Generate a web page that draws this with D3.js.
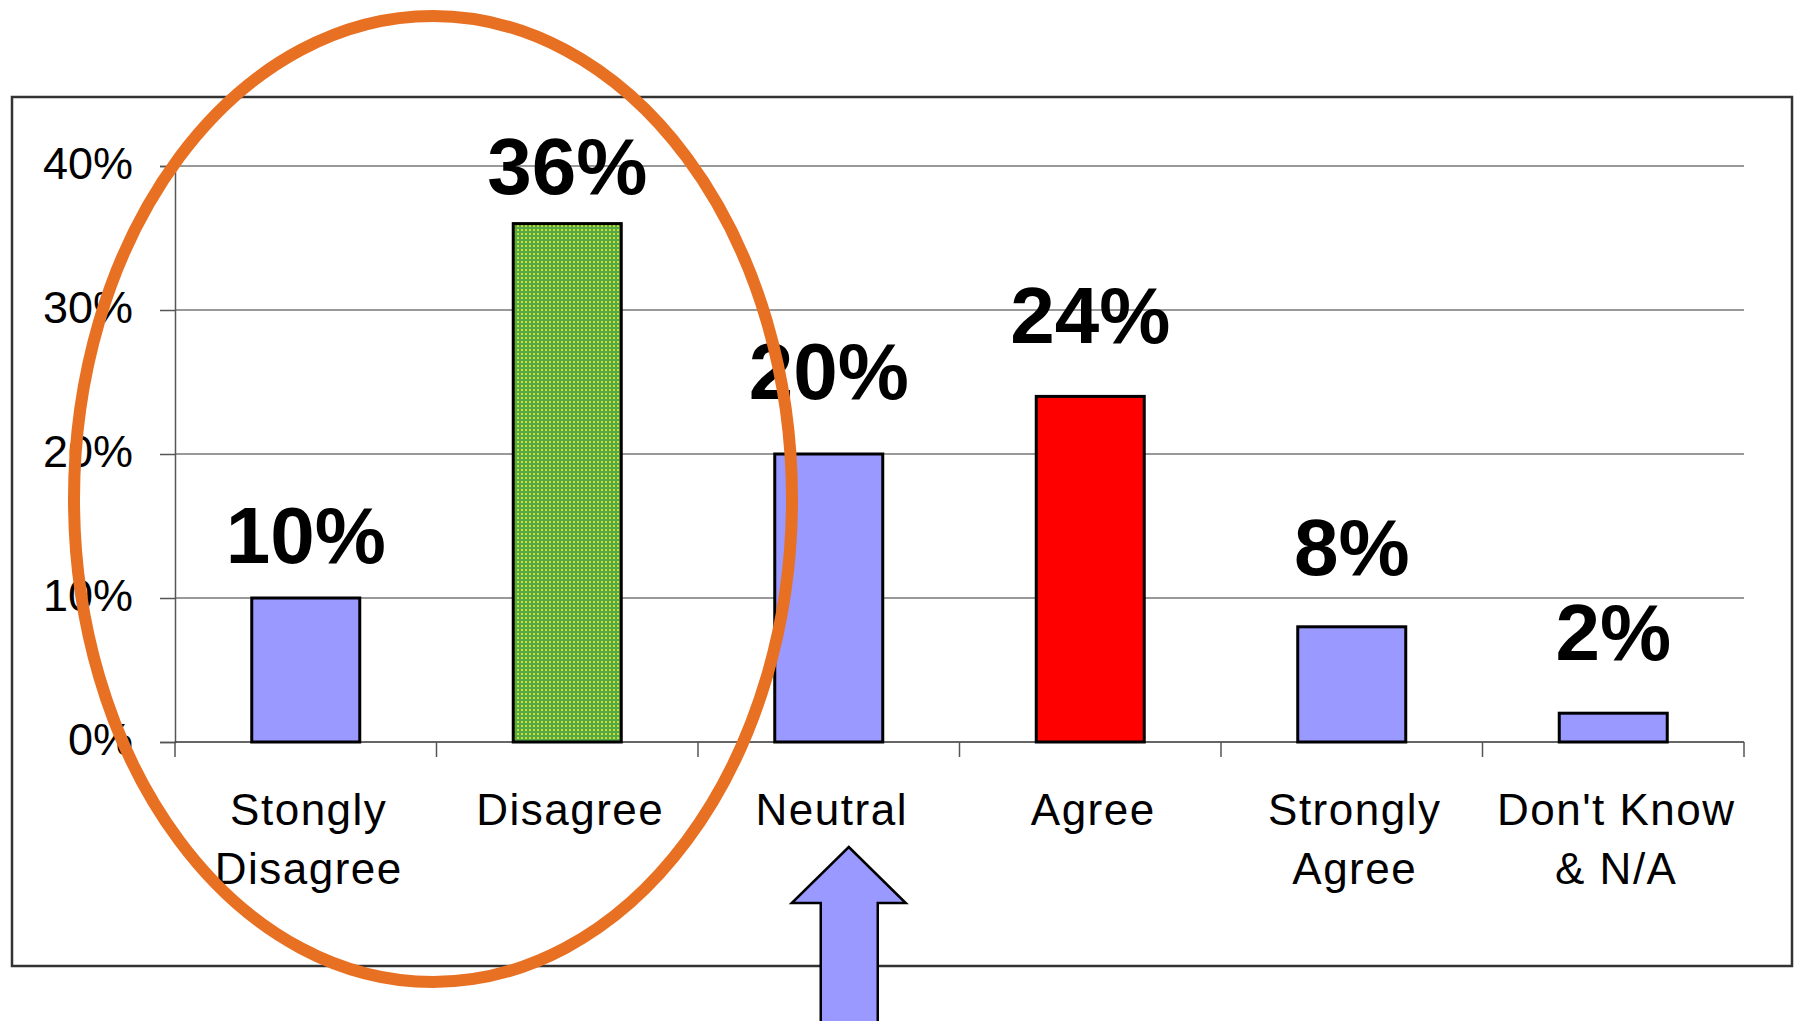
<!DOCTYPE html>
<html>
<head>
<meta charset="utf-8">
<script src="https://cdn.jsdelivr.net/npm/d3@7"></script>
<style>
  html, body { margin: 0; padding: 0; background: #fff; }
  svg { display: block; font-family: Arial, "Liberation Sans", Helvetica, sans-serif; }
</style>
</head>
<body>
<svg id="chart" width="1795" height="1021"></svg>
<script>
const categories = [["Stongly", "Disagree"], ["Disagree"], ["Neutral"], ["Agree"], ["Strongly", "Agree"], ["Don't Know", "& N/A"]];
const values = [10, 36, 20, 24, 8, 2];
const valueLabels = ["10%", "36%", "20%", "24%", "8%", "2%"];
const barFills = ["#9999FF", "url(#greenDots)", "#9999FF", "#FF0000", "#9999FF", "#9999FF"];
const yTicks = [0, 10, 20, 30, 40];
const yTickLabels = ["0%", "10%", "20%", "30%", "40%"];
// manual nudges of the value labels, as placed in the original
const labelLift = [35, 30, 55, 53, 52, 53];

const svg = d3.select("#chart");
const defs = svg.append("defs");
const pat = defs.append("pattern").attr("id", "greenDots")
  .attr("patternUnits", "userSpaceOnUse").attr("width", 4).attr("height", 4);
pat.append("rect").attr("width", 4).attr("height", 4).attr("fill", "#55a84a");
pat.append("rect").attr("x", 1).attr("y", 1).attr("width", 2).attr("height", 2).attr("fill", "#cfe02a");

// outer frame
svg.append("rect").attr("x", 12).attr("y", 97).attr("width", 1780).attr("height", 869)
  .attr("fill", "#fff").attr("stroke", "#333").attr("stroke-width", 2.5);

const x = d3.scaleBand().domain(d3.range(categories.length)).range([175, 1744])
  .paddingInner(0.587).paddingOuter(0.2935);
const y = d3.scaleLinear().domain([0, 40]).range([742, 166]);

// gridlines
svg.append("g").selectAll("line").data(yTicks.filter(d => d > 0)).join("line")
  .attr("x1", 175).attr("x2", 1744)
  .attr("y1", d => y(d)).attr("y2", d => y(d))
  .attr("stroke", "#777").attr("stroke-width", 1.5);

// y axis
const yAxis = svg.append("g").attr("transform", "translate(175,0)")
  .call(d3.axisLeft(y).tickValues(yTicks).tickSize(15).tickFormat((d, i) => yTickLabels[i]));
yAxis.select(".domain").attr("stroke", "#555").attr("stroke-width", 1.5);
yAxis.selectAll(".tick line").attr("stroke", "#555").attr("stroke-width", 1.5);
yAxis.selectAll(".tick text").attr("x", -42).attr("dy", "0.27em")
  .attr("font-size", 45).attr("fill", "#000").attr("font-family", "Arial, 'Liberation Sans', sans-serif");

// x axis
const xEdges = d3.range(categories.length + 1).map(i => 175 + i * x.step());
const xAxis = svg.append("g");
xAxis.append("line").attr("x1", 175).attr("x2", 1744).attr("y1", 742).attr("y2", 742)
  .attr("stroke", "#333").attr("stroke-width", 1.5);
xAxis.selectAll("line.tk").data(xEdges).join("line").attr("class", "tk")
  .attr("x1", d => d).attr("x2", d => d).attr("y1", 742).attr("y2", 757)
  .attr("stroke", "#555").attr("stroke-width", 1.5);
const xl = xAxis.selectAll("text").data(categories).join("text")
  .attr("text-anchor", "middle").attr("font-size", 44).attr("fill", "#000")
  .attr("letter-spacing", 1.5)
  .attr("x", (d, i) => x(i) + x.bandwidth() / 2 + 3);
xl.selectAll("tspan").data(d => d).join("tspan")
  .attr("x", function() { return this.parentNode.getAttribute("x"); })
  .attr("y", (d, i) => 825 + i * 59).text(d => d);

// bars
svg.append("g").selectAll("rect").data(values).join("rect")
  .attr("x", (d, i) => x(i)).attr("width", x.bandwidth())
  .attr("y", d => y(d)).attr("height", d => y(0) - y(d))
  .attr("fill", (d, i) => barFills[i]).attr("stroke", "#000").attr("stroke-width", 3);

// value labels
svg.append("g").selectAll("text").data(values).join("text")
  .attr("x", (d, i) => x(i) + x.bandwidth() / 2)
  .attr("y", (d, i) => y(d) - labelLift[i])
  .attr("text-anchor", "middle").attr("font-size", 80).attr("font-weight", "bold")
  .attr("fill", "#000").text((d, i) => valueLabels[i]);

// annotation arrow pointing up to Neutral
const ax = x(2) + x.bandwidth() / 2 + 20;
svg.append("polygon")
  .attr("points", [[ax, 847], [ax + 57, 903], [ax + 29, 903], [ax + 29, 1035], [ax - 28, 1035], [ax - 28, 903], [ax - 57, 903]].map(p => p.join(",")).join(" "))
  .attr("fill", "#9999FF").attr("stroke", "#000").attr("stroke-width", 2.5);

// orange ellipse highlighting disagree group
svg.append("ellipse").attr("cx", 433).attr("cy", 499).attr("rx", 359).attr("ry", 483)
  .attr("fill", "none").attr("stroke", "#E87022").attr("stroke-width", 12);
</script>
</body>
</html>
